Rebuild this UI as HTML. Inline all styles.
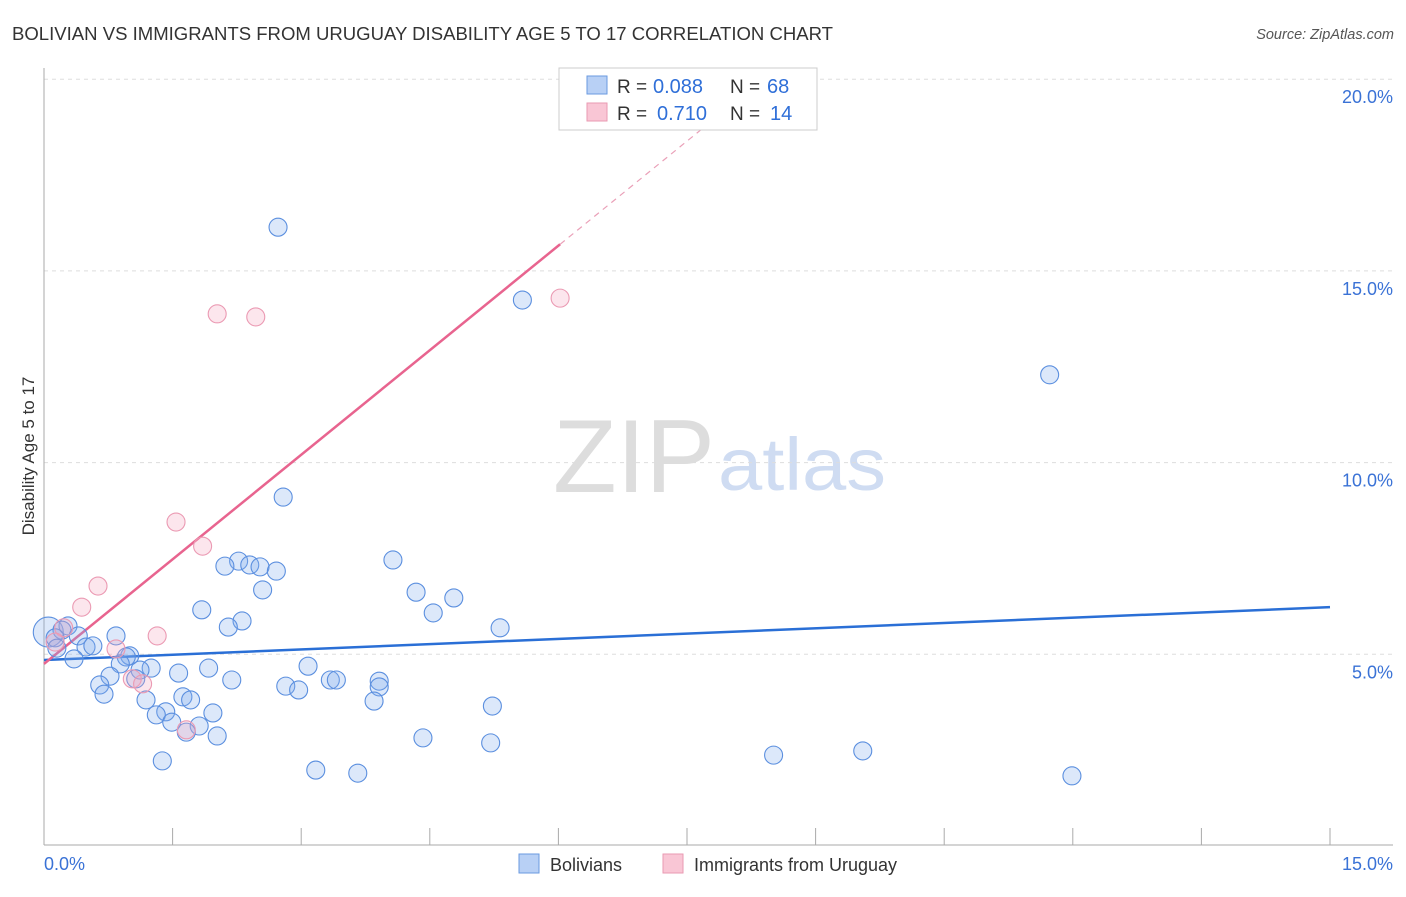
<!DOCTYPE html>
<html><head><meta charset="utf-8"><style>
body{margin:0;background:#fff;font-family:"Liberation Sans",sans-serif}
svg text{font-family:"Liberation Sans",sans-serif}
</style></head><body>
<svg id="chart" width="1406" height="892">
<text x="12" y="40" font-size="18" fill="#333" textLength="821" lengthAdjust="spacingAndGlyphs">BOLIVIAN VS IMMIGRANTS FROM URUGUAY DISABILITY AGE 5 TO 17 CORRELATION CHART</text>
<text x="1394" y="39" font-size="14.5" fill="#555" font-style="italic" text-anchor="end">Source: ZipAtlas.com</text>
<text x="553" y="492" font-size="104" fill="#ddd" font-family="Liberation Serif" textLength="162" lengthAdjust="spacingAndGlyphs">ZIP</text>
<text x="718" y="490" font-size="74" fill="#cfdcf2" textLength="168" lengthAdjust="spacingAndGlyphs">atlas</text>
<text transform="translate(34,456) rotate(-90)" font-size="17" fill="#333" text-anchor="middle">Disability Age 5 to 17</text>
<g id="grid"></g><g id="axes"></g><g id="lines"></g><g id="points"></g>
<g>
<rect x="559" y="68" width="258" height="62" fill="#fff" stroke="#ccc"/>
<rect x="587" y="76" width="20" height="18" fill="#b8d0f5" stroke="#6a9ae0"/>
<rect x="587" y="103" width="20" height="18" fill="#f9c6d5" stroke="#e99ab2"/>
<text x="617" y="93" font-size="19" fill="#333">R =</text>
<text x="653" y="93" font-size="20" fill="#2f6fd8">0.088</text>
<text x="730" y="93" font-size="19" fill="#333">N =</text>
<text x="767" y="93" font-size="20" fill="#2f6fd8">68</text>
<text x="617" y="120" font-size="19" fill="#333">R =</text>
<text x="657" y="120" font-size="20" fill="#2f6fd8">0.710</text>
<text x="730" y="120" font-size="19" fill="#333">N =</text>
<text x="770" y="120" font-size="20" fill="#2f6fd8">14</text>
</g>
<g>
<rect x="519" y="854" width="20" height="19" fill="#b8d0f5" stroke="#6a9ae0"/>
<text x="550" y="871" font-size="18" fill="#333">Bolivians</text>
<rect x="663" y="854" width="20" height="19" fill="#f9c6d5" stroke="#e99ab2"/>
<text x="694" y="871" font-size="18" fill="#333">Immigrants from Uruguay</text>
</g>
</svg>
<script>
const yTicks=[5,10,15,20];
const yTickLabels=["5.0%","10.0%","15.0%","20.0%"];
const xTickLabels=["0.0%","15.0%"];
const blueX=[2.73,5.58,11.73,2.79,4.07,2.27,2.11,2.40,2.52,2.71,2.55,4.34,4.78,1.84,4.54,2.31,2.15,5.32,0.05,0.28,0.21,0.40,0.84,0.13,0.49,0.57,0.15,1.00,0.96,0.35,0.89,1.25,1.12,1.92,3.08,1.57,0.77,1.07,3.34,3.41,2.19,3.91,0.65,2.82,2.97,3.91,0.70,1.62,1.71,1.19,3.85,5.23,1.42,1.31,1.97,1.49,1.81,1.66,2.02,4.42,5.21,8.51,9.55,1.38,3.17,3.66,11.99];
const blueY=[16.14,14.24,12.29,9.10,7.46,7.43,7.30,7.33,7.28,7.17,6.68,6.62,6.47,6.16,6.08,5.87,5.71,5.69,5.58,5.74,5.63,5.48,5.48,5.43,5.19,5.22,5.16,4.96,4.93,4.88,4.75,4.64,4.59,4.64,4.69,4.51,4.43,4.36,4.33,4.33,4.33,4.30,4.20,4.17,4.07,4.15,3.96,3.89,3.81,3.81,3.78,3.65,3.50,3.42,3.47,3.23,3.13,2.97,2.87,2.82,2.69,2.37,2.48,2.22,1.98,1.90,1.83];
const pinkX=[2.02,2.47,6.02,1.54,1.85,0.63,0.44,0.23,1.32,0.84,0.13,1.03,1.15,1.66];
const pinkY=[13.88,13.80,14.29,8.45,7.82,6.78,6.23,5.69,5.48,5.14,5.32,4.36,4.23,3.03];
const blueTrend=[4.85,6.23];
const pinkTrend=[4.75,1.818];
const NS="http://www.w3.org/2000/svg";
const sx=v=>44+v/15*1286, sy=v=>846-v/5*191.7;
function mk(p,t,a){const e=document.createElementNS(NS,t);for(const k in a)e.setAttribute(k,a[k]);document.getElementById(p).appendChild(e);return e;}
yTicks.forEach((t,i)=>{
 const l=mk('grid','line',{x1:44,x2:1393,y1:sy(t),y2:sy(t),stroke:'#ddd','stroke-dasharray':'4,4'});
 
 
 const tx=mk('grid','text',{x:1393,y:sy(t)+24,'font-size':18,fill:'#3a72d6','text-anchor':'end'});
 tx.textContent=yTickLabels[i];
 
 
});
mk('axes','line',{x1:44,x2:44,y1:68,y2:845,stroke:'#aaa'});
mk('axes','line',{x1:44,x2:1393,y1:845,y2:845,stroke:'#aaa'});
for(let i=0;i<=10;i++){mk('axes','line',{x1:sx(i*1.5),x2:sx(i*1.5),y1:828,y2:845,stroke:'#aaa'});}
const xl0=mk('axes','text',{x:44,y:870,'font-size':18,fill:'#3a72d6'});xl0.textContent=xTickLabels[0];


const xl1=mk('axes','text',{x:1393,y:870,'font-size':18,fill:'#3a72d6','text-anchor':'end'});xl1.textContent=xTickLabels[1];


const bl=mk('lines','line',{x1:sx(0),y1:sy(blueTrend[0]),x2:sx(15),y2:sy(blueTrend[1]),stroke:'#2a6fd6','stroke-width':2.5});


const pl=mk('lines','line',{x1:sx(0),y1:sy(pinkTrend[0]),x2:sx(6.02),y2:sy(pinkTrend[0]+pinkTrend[1]*6.02),stroke:'#e8648f','stroke-width':2.5});


const pd=mk('lines','line',{x1:sx(6.02),y1:sy(pinkTrend[0]+pinkTrend[1]*6.02),x2:sx(7.66),y2:sy(pinkTrend[0]+pinkTrend[1]*7.66),stroke:'#eaa0b8','stroke-width':1.2,'stroke-dasharray':'6,5'});


blueX.forEach((x,i)=>{
 const c=mk('points','circle',{cx:sx(x),cy:sy(blueY[i]),r:i==18?15:9,fill:'rgba(130,172,238,0.28)',stroke:'#5b8fdf','stroke-width':1.1});
 
 
});
pinkX.forEach((x,i)=>{
 const c=mk('points','circle',{cx:sx(x),cy:sy(pinkY[i]),r:9,fill:'rgba(245,165,190,0.28)',stroke:'#eb9ab3','stroke-width':1.1});
 
 
});
</script>
</body></html>
